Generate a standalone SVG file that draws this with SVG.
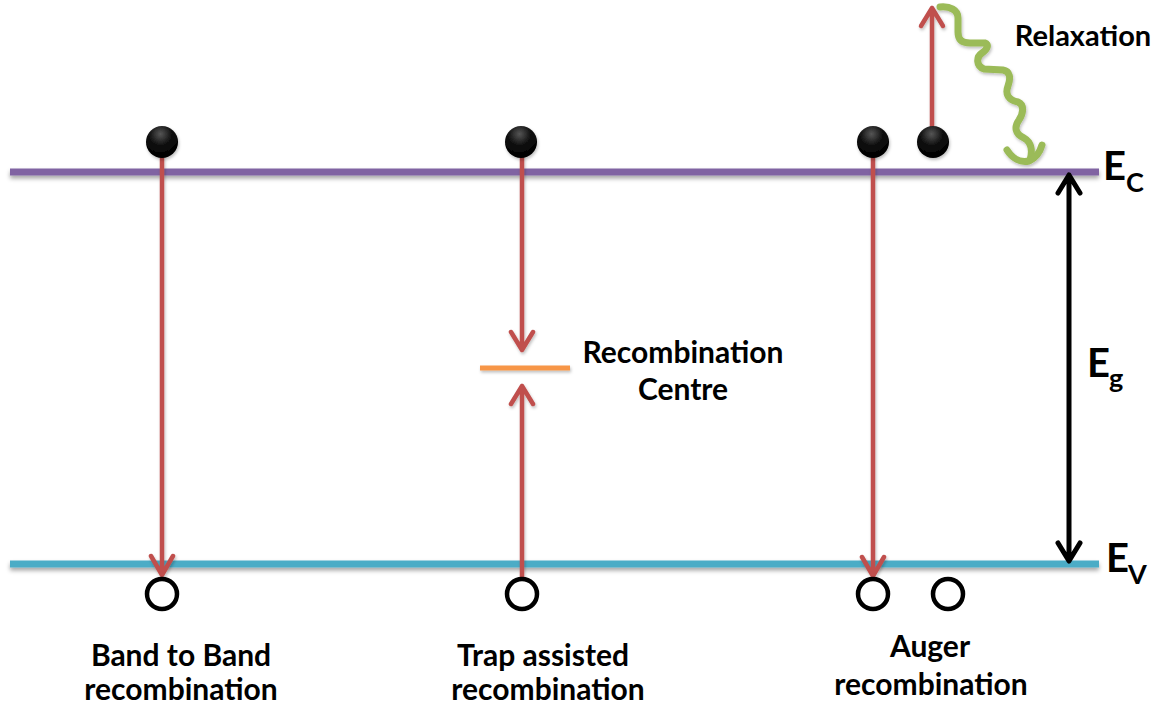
<svg xmlns="http://www.w3.org/2000/svg" width="1163" height="710" viewBox="0 0 1163 710">
  <style>
    .lbl { font-family: Lato, "Liberation Sans", sans-serif; font-weight: bold; fill: #000; }
    .band { stroke-width: 7; fill: none; filter: url(#sh); }
    .red { stroke: #C0504D; stroke-width: 4.5; fill: none; stroke-linecap: round; stroke-linejoin: round; filter: url(#sh2); }
    .blk { stroke: #000; stroke-width: 5; fill: none; stroke-linecap: round; stroke-linejoin: round; }
    .hole { fill: #fff; stroke: #000; stroke-width: 4.5; }
    .el { fill: url(#eg); filter: url(#sh2); }
  </style>
  <defs>
    <filter id="sh" filterUnits="userSpaceOnUse" x="0" y="0" width="1163" height="710">
      <feDropShadow dx="0" dy="3" stdDeviation="2" flood-color="#000" flood-opacity="0.35"/>
    </filter>
    <filter id="sh2" filterUnits="userSpaceOnUse" x="0" y="0" width="1163" height="710">
      <feDropShadow dx="1" dy="2" stdDeviation="1.5" flood-color="#000" flood-opacity="0.25"/>
    </filter>
    <radialGradient id="eg" cx="0.45" cy="0.25" r="0.7">
      <stop offset="0" stop-color="#555"/>
      <stop offset="0.5" stop-color="#111"/>
      <stop offset="1" stop-color="#000"/>
    </radialGradient>
  </defs>

  <rect width="1163" height="710" fill="#fff"/>

  <g id="conduction-band">
    <line class="band" x1="10" y1="172" x2="1099" y2="172" stroke="#8064A2"/>
    <text class="lbl" x="1103" y="180" font-size="40">E</text>
    <text class="lbl" x="1126" y="192" font-size="27">C</text>
  </g>
  <g id="valence-band">
    <line class="band" x1="10" y1="564" x2="1099" y2="564" stroke="#4BACC6"/>
    <text class="lbl" x="1106" y="572" font-size="40">E</text>
    <text class="lbl" x="1128" y="584" font-size="27">V</text>
  </g>

  <g id="recombination-centre">
    <line x1="480" y1="368" x2="570" y2="368" stroke="#F79646" stroke-width="5" filter="url(#sh2)"/>
    <text class="lbl" x="683" y="363" font-size="30" text-anchor="middle">Recombination</text>
    <text class="lbl" x="683" y="400" font-size="30" text-anchor="middle">Centre</text>
  </g>

  <g id="connectors">
    <!-- band to band -->
    <path class="red" d="M162,158 L162,575 M151,556 L162,575 L173,556"/>
    <!-- trap assisted -->
    <path class="red" d="M522,158 L522,350 M511,332 L522,350 L533,332"/>
    <path class="red" d="M522,578 L522,386 M511,404 L522,386 L533,404"/>
    <!-- auger -->
    <path class="red" d="M873,158 L873,576 M862,557 L873,576 L884,557"/>
    <path class="red" d="M932,126 L932,8 M921,26 L932,8 L943,26"/>
    <!-- relaxation -->
    <g fill="none" stroke="#9BBB59" stroke-width="7" stroke-linecap="round" stroke-linejoin="round" filter="url(#sh2)">
      <path d="M940,7 C950,6 958,10 958,18 L958,32 C958,40 962,43 970,43 L985,43 C989,44 988,49 982,53 C976,57 976,66 984,69 L1003,70 C1010,71 1011,78 1008,86 C1005,94 1008,100 1018,102 C1025,105 1023,114 1019,120 C1014,127 1015,134 1024,138 C1031,142 1033,150 1030,160"/>
      <path d="M1007,150 C1012,158 1020,163 1029,161 C1036,158 1040,152 1042,145"/>
    </g>
    <!-- band gap -->
    <path class="blk" d="M1069,176 L1069,560 M1058,193 L1069,175 L1080,193 M1058,543 L1069,561 L1080,543"/>
  </g>

  <g id="band-gap-label">
    <text class="lbl" x="1087" y="377" font-size="40">E</text>
    <text class="lbl" x="1109" y="388" font-size="27">g</text>
  </g>

  <g id="band-to-band">
    <circle class="el" cx="162" cy="142" r="16"/>
    <circle class="hole" cx="162" cy="594" r="15"/>
    <text class="lbl" x="181" y="666" font-size="30" text-anchor="middle">Band to Band</text>
    <text class="lbl" x="181" y="700" font-size="30" text-anchor="middle">recombination</text>
  </g>

  <g id="trap-assisted">
    <circle class="el" cx="521" cy="142" r="16"/>
    <circle class="hole" cx="522" cy="594" r="15"/>
    <text class="lbl" x="543" y="666" font-size="30" text-anchor="middle">Trap assisted</text>
    <text class="lbl" x="548" y="700" font-size="30" text-anchor="middle">recombination</text>
  </g>

  <g id="auger">
    <circle class="el" cx="873" cy="142" r="16"/>
    <circle class="el" cx="933" cy="142" r="16"/>
    <circle class="hole" cx="873" cy="594" r="15"/>
    <circle class="hole" cx="948" cy="594" r="15"/>
    <text class="lbl" x="930" y="657" font-size="30" text-anchor="middle">Auger</text>
    <text class="lbl" x="931" y="695" font-size="30" text-anchor="middle">recombination</text>
  </g>

  <g id="relaxation-label">
    <text class="lbl" x="1083" y="46" font-size="29" text-anchor="middle">Relaxation</text>
  </g>
</svg>
